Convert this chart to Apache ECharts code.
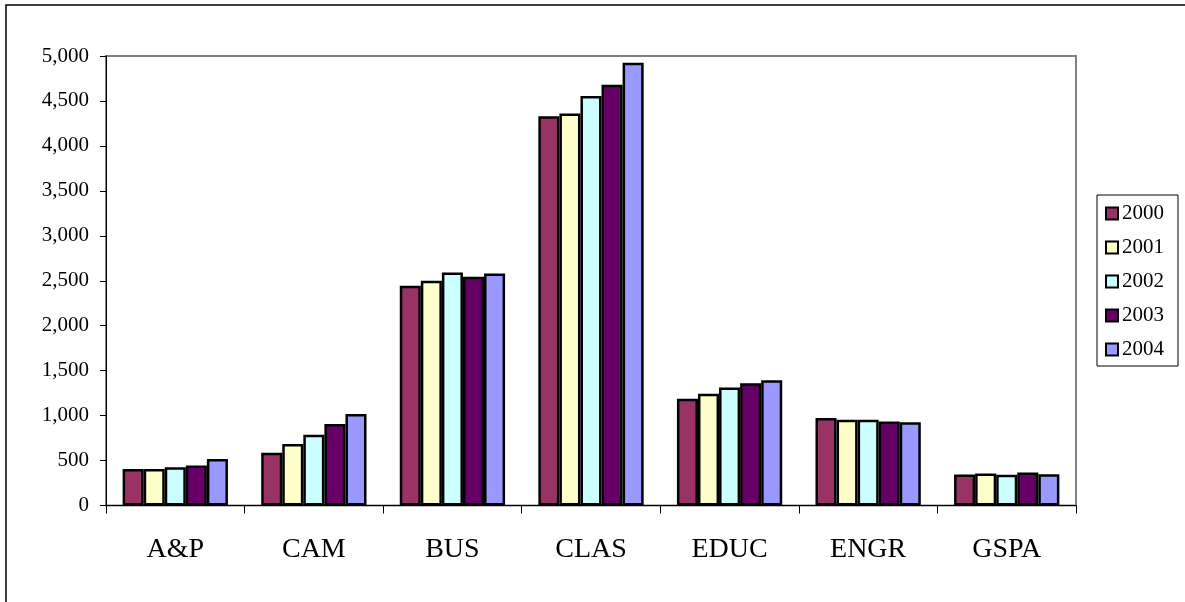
<!DOCTYPE html>
<html>
<head>
<meta charset="utf-8">
<script src="https://cdn.jsdelivr.net/npm/echarts@6/dist/echarts.min.js"></script>
<style>
html,body{margin:0;padding:0;background:#fff;}
#chart{width:1185px;height:602px;}
</style>
</head>
<body>
<div id="chart"></div>
<script>
const categories = ['A&P', 'CAM', 'BUS', 'CLAS', 'EDUC', 'ENGR', 'GSPA'];
const years = ['2000', '2001', '2002', '2003', '2004'];
const v2000 = [405, 588, 2445, 4330, 1187, 972, 345];
const v2001 = [405, 685, 2500, 4360, 1242, 953, 355];
const v2002 = [425, 788, 2592, 4555, 1312, 953, 342];
const v2003 = [444, 907, 2545, 4680, 1360, 934, 366];
const v2004 = [518, 1018, 2580, 4925, 1394, 927, 348];
const colors = ['#993366', '#FFFFCC', '#CCFFFF', '#660066', '#9999FF'];
const yTicks = [0, 500, 1000, 1500, 2000, 2500, 3000, 3500, 4000, 4500, 5000];

const seriesValues = [v2000, v2001, v2002, v2003, v2004];
const font = '"Liberation Serif", "Times New Roman", serif';

const chart = echarts.init(document.getElementById('chart'), null, {renderer: 'canvas'});
chart.setOption({
  animation: false,
  backgroundColor: '#fff',
  graphic: [{
    type: 'rect',
    shape: {x: 6, y: 5, width: 1210, height: 640},
    style: {fill: 'none', stroke: '#000', lineWidth: 1.5},
    silent: true
  }],
  grid: {
    left: 106, right: 109, top: 56, bottom: 96.5,
    show: true, borderColor: '#808080', borderWidth: 2, backgroundColor: 'transparent'
  },
  legend: {
    orient: 'vertical',
    left: 1097, top: 195,
    padding: [8, 14, 6, 8],
    borderColor: '#000', borderWidth: 1,
    itemWidth: 12, itemHeight: 12, itemGap: 13,
    icon: 'rect',
    data: years,
    textStyle: {fontFamily: font, fontSize: 21, color: '#000', lineHeight: 21, padding: [0, 0, 0, -1]}
  },
  xAxis: {
    type: 'category',
    data: categories,
    axisLine: {lineStyle: {color: '#000', width: 1}},
    axisTick: {show: true, interval: 0, length: 8, lineStyle: {color: '#000'}},
    axisLabel: {fontFamily: font, fontSize: 28, color: '#000', margin: 30, interval: 0},
    splitLine: {show: false}
  },
  yAxis: {
    type: 'value',
    min: 0, max: 5000, interval: 500,
    axisLine: {show: true, lineStyle: {color: '#000', width: 1}},
    axisTick: {show: true, length: 6, lineStyle: {color: '#000'}},
    axisLabel: {
      fontFamily: font, fontSize: 21, color: '#000', margin: 17,
      formatter: function (v) { return yTicks.indexOf(v) >= 0 ? v.toLocaleString('en-US') : ''; }
    },
    splitLine: {show: false}
  },
  series: years.map(function (y, i) {
    return {
      name: y,
      type: 'bar',
      data: seriesValues[i],
      barGap: '0%',
      barCategoryGap: '24%',
      itemStyle: {color: colors[i], borderColor: '#000', borderWidth: 2.5}
    };
  })
});
</script>
</body>
</html>
